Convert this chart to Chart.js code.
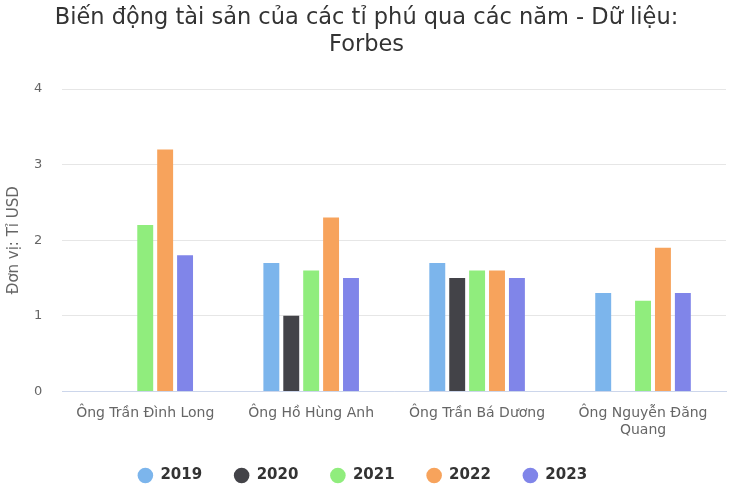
<!DOCTYPE html>
<html>
<head>
<meta charset="utf-8">
<script src="https://cdn.jsdelivr.net/npm/chart.js@4"></script>
<style>
  html, body { margin: 0; padding: 0; background: #fff; }
  #wrap { width: 730px; height: 494px; }
</style>
</head>
<body>
<div id="wrap"><canvas id="chart"></canvas></div>
<script>
const categories = [
  'Ông Trần Đình Long',
  'Ông Hồ Hùng Anh',
  'Ông Trần Bá Dương',
  ['Ông Nguyễn Đăng', 'Quang']
];
const years = ['2019', '2020', '2021', '2022', '2023'];
const colors = ['#7cb5ec', '#434348', '#90ed7d', '#f7a35c', '#8085e9'];

// tài sản theo năm (tỉ USD), mỗi mảng theo thứ tự categories
const v2019 = [null, 1.7, 1.7, 1.3];
const v2020 = [null, 1.0, 1.5, null];
const v2021 = [2.2, 1.6, 1.6, 1.2];
const v2022 = [3.2, 2.3, 1.6, 1.9];
const v2023 = [1.8, 1.5, 1.5, 1.3];
const yTicks = [0, 1, 2, 3, 4];

const series = [v2019, v2020, v2021, v2022, v2023];
const font = '"DejaVu Sans", Verdana, sans-serif';

// legend padding gives the wide horizontal gaps, but reserves too much room above it;
// let the plot reserve less for it and grow the legend box back upward afterwards
const legendLift = 17;
const legendShiftX = -4;
const legendLiftPlugin = {
  id: 'legendLift',
  beforeLayout(chart) {
    const lg = chart.legend;
    if (lg && !lg._lifted) {
      const fit = lg.fit.bind(lg);
      lg.fit = function () { fit(); this.height -= legendLift; };
      lg._lifted = true;
    }
  },
  afterLayout(chart) {
    const lg = chart.legend;
    lg.top -= legendLift;
    lg.height += legendLift;
    lg.left += legendShiftX;
    lg.right += legendShiftX;
  }
};

new Chart(document.getElementById('chart'), {
  type: 'bar',
  data: {
    labels: categories,
    datasets: series.map((vals, i) => ({
      label: years[i],
      data: vals,
      backgroundColor: colors[i],
      borderWidth: 0,
      categoryPercentage: 0.6,
      barPercentage: 0.8
    }))
  },
  plugins: [legendLiftPlugin],
  options: {
    responsive: true, maintainAspectRatio: false,
    animation: false,
    layout: { padding: { left: 7, right: 4, top: 0, bottom: 1 } },
    plugins: {
      title: {
        display: true,
        text: ['Biến động tài sản của các tỉ phú qua các năm - Dữ liệu:', 'Forbes'],
        color: '#333333',
        font: { family: font, size: 22.5, weight: 'normal', lineHeight: 1.2 },
        padding: { top: 5, bottom: 30 }
      },
      legend: {
        position: 'bottom',
        labels: {
          usePointStyle: true, pointStyle: 'circle', boxWidth: 17, boxHeight: 11,
          padding: 32,
          color: '#333333',
          font: { family: font, size: 15, weight: 'bold' }
        }
      },
      tooltip: { enabled: false }
    },
    scales: {
      x: {
        grid: { display: false, drawTicks: false },
        border: { color: '#ccd6eb' },
        ticks: { color: '#666666', font: { family: font, size: 14 }, maxRotation: 0, padding: 14 }
      },
      y: {
        min: 0, max: 4,
        afterBuildTicks: axis => { axis.ticks = yTicks.map(v => ({ value: v })); },
        afterFit: axis => { axis.width -= 8; },
        grid: { color: '#e6e6e6', drawTicks: false },
        border: { display: false },
        ticks: { color: '#666666', font: { family: font, size: 13 }, padding: 20 },
        title: { display: true, text: 'Đơn vị: Tỉ USD', color: '#666666', font: { family: font, size: 15, lineHeight: 1 }, padding: { top: 0, bottom: 0 } }
      }
    }
  }
});
</script>
</body>
</html>
